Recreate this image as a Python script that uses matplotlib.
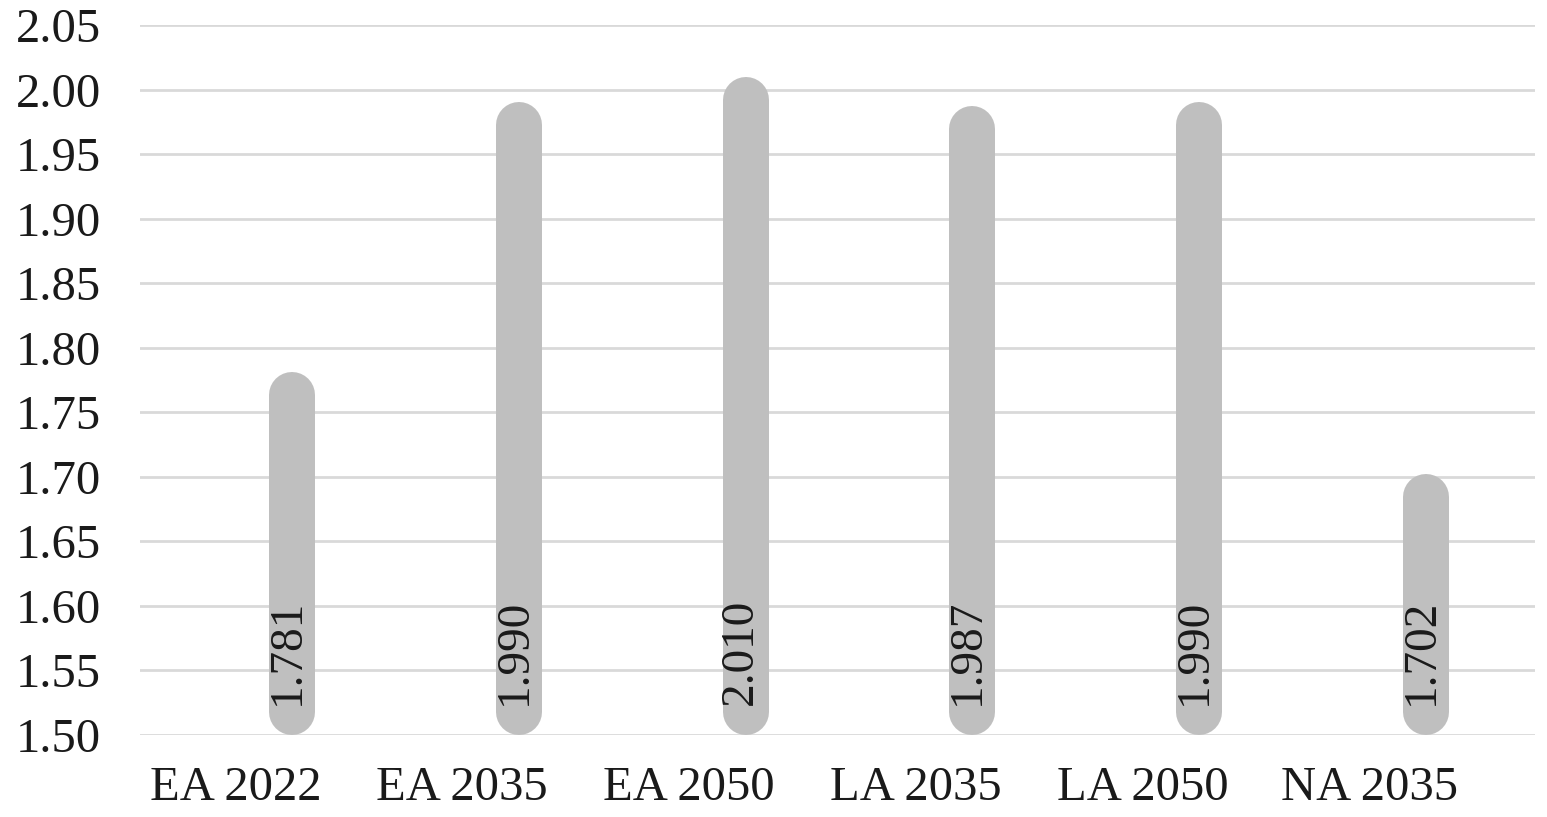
import numpy as np
import matplotlib.pyplot as plt

# data
categories = ['EA 2022', 'EA 2035', 'EA 2050', 'LA 2035', 'LA 2050', 'NA 2035']
values = [1.781, 1.990, 2.010, 1.987, 1.990, 1.702]
yticks = np.arange(1.50, 2.051, 0.05)

plt.rcParams['font.family'] = ['Liberation Serif', 'DejaVu Serif']

fig = plt.figure(figsize=(15.47, 8.17), dpi=100)
ax = fig.add_axes([0.0905, 0.1004, 0.9017, 0.869])

ymin, ymax = 1.50, 2.05
ax.set_ylim(ymin, ymax)
ax.set_xlim(-0.67, 5.48)

bar_col = '#bfbfbf'
grid_col = '#d9d9d9'

for y in yticks:
    ax.axhline(y, color=grid_col, lw=2, zorder=0)

# bar width in pixels -> round cap radius in data units
bar_px = 46
px_per_unit = ax.get_position().height * fig.get_figheight() * fig.dpi / (ymax - ymin)
r = (bar_px / 2) / px_per_unit
lw_pt = bar_px * 72 / fig.dpi

x = np.arange(len(categories))
for xi, v in zip(x, values):
    ax.plot([xi, xi], [ymin + r, v - r], color=bar_col, lw=lw_pt,
            solid_capstyle='round', zorder=2)
    ax.text(xi - 0.02, ymin + 0.023, f'{v:.3f}', rotation=90, ha='center', va='bottom',
            fontsize=34, color='#1a1a1a', zorder=3)

ax.set_yticks(yticks)
ax.set_yticklabels([f'{t:.2f}' for t in yticks], fontsize=35, color='#1a1a1a')
# category labels sit a little left of the bars, as in the source
ax.set_xticks(x - 0.25)
ax.set_xticklabels(categories, fontsize=35, color='#1a1a1a')
ax.tick_params(length=0)
ax.tick_params(axis='x', pad=22)
ax.tick_params(axis='y', pad=28)
for s in ax.spines.values():
    s.set_visible(False)

fig.savefig('out.png', dpi=100)
